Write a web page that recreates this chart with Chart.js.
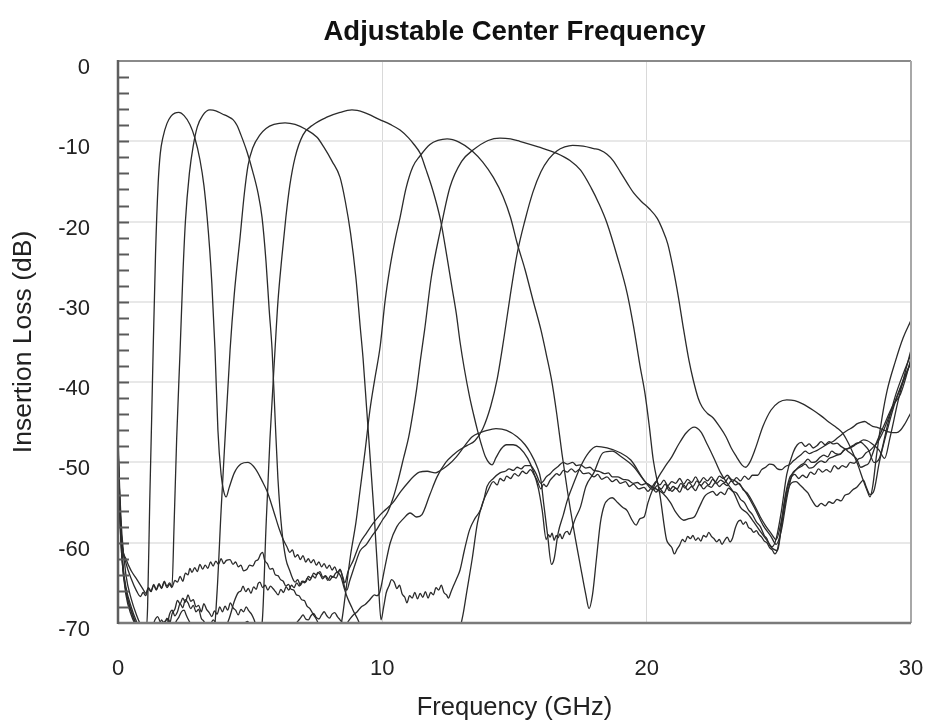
<!DOCTYPE html>
<html>
<head>
<meta charset="utf-8">
<script src="https://cdn.jsdelivr.net/npm/chart.js@4.4.1/dist/chart.umd.min.js"></script>
<style>
  html, body { margin: 0; padding: 0; background: #ffffff; overflow: hidden; }
  #wrap { width: 926px; height: 723px; position: relative; }
</style>
</head>
<body>
<div id="wrap"><canvas id="c" width="926" height="723"></canvas></div>
<script>
// ---- data: [frequency (GHz), insertion loss (dB)] ----
const chartTitle = 'Adjustable Center Frequency';
const xTitle = 'Frequency (GHz)';
const yTitle = 'Insertion Loss (dB)';
const xTicks = [0, 10, 20, 30];
const yTicks = [0, -10, -20, -30, -40, -50, -60, -70];

const filter1 = [[0,-47],[0.06,-53],[0.15,-59],[0.3,-64],[0.5,-67],[0.7,-69],[0.9,-70.5],[1.05,-71],[1.12,-68],[1.2,-55],[1.27,-45],[1.33,-36],[1.42,-24],[1.52,-15.2],[1.6,-11.5],[1.7,-9.5],[1.85,-7.8],[2.0,-6.9],[2.15,-6.5],[2.3,-6.4],[2.5,-6.8],[2.72,-7.9],[2.9,-9.5],[3.1,-12.3],[3.25,-15.5],[3.37,-19.4],[3.47,-23.5],[3.55,-27.7],[3.67,-36],[3.78,-46],[3.9,-51.5],[4.0,-53.6],[4.09,-54.3],[4.2,-53.2],[4.4,-51.3],[4.65,-50.2],[4.92,-50],[5.2,-50.8],[5.45,-52.3],[5.64,-53.6],[5.9,-56.2],[6.1,-58.3],[6.25,-59.6],[6.39,-60.5],[6.5,-61.2],[6.6,-60.9],[6.7,-61.8],[6.8,-61.5],[6.9,-62.1],[7.0,-61.6],[7.1,-62.4],[7.2,-62],[7.3,-62.5],[7.4,-62.1],[7.5,-62.8],[7.6,-62.4],[7.7,-63],[7.8,-62.6],[7.9,-63.2],[8.0,-62.8],[8.1,-63.4],[8.2,-63],[8.28,-63.6],[8.38,-63.9],[8.45,-64.4],[8.55,-65.6],[8.65,-66.6],[8.75,-67.4],[8.85,-68.1],[8.95,-68.8],[9.05,-69.4],[9.2,-70.5],[9.6,-72],[12.6,-72],[12.9,-71],[13.05,-69],[13.2,-66],[13.4,-62],[13.6,-57.5],[13.8,-55],[14.0,-53.5],[14.2,-52.4],[14.35,-52.8],[14.45,-52],[14.6,-52.3],[14.7,-51.7],[14.85,-52],[15.0,-51.4],[15.15,-51.7],[15.3,-51.1],[15.45,-51.4],[15.6,-50.9],[15.75,-51.6],[15.85,-52.2],[16.0,-53.3],[16.1,-52.7],[16.2,-53],[16.35,-52.2],[16.46,-51.8],[16.6,-51.4],[16.7,-51.6],[16.85,-51],[17.0,-51.2],[17.15,-50.8],[17.3,-51.2],[17.45,-50.9],[17.6,-51.4],[17.8,-51.3],[18.0,-51.8],[18.15,-51.5],[18.3,-52.1],[18.5,-51.8],[18.7,-52.4],[18.85,-52.1],[19.0,-52.6],[19.2,-52.4],[19.35,-53],[19.5,-52.7],[19.7,-53.3],[19.9,-53.1],[20.05,-53.6],[20.2,-53.1],[20.35,-53.7],[20.5,-53.3],[20.65,-53.8],[20.8,-53],[20.95,-53.6],[21.1,-53.2],[21.25,-53.7],[21.4,-52.8],[21.55,-53.4],[21.7,-53],[21.85,-53.5],[22.0,-52.7],[22.15,-53.3],[22.3,-52.9],[22.45,-53.1],[22.6,-52.5],[22.75,-53],[22.9,-52.6],[23.05,-52.9],[23.2,-52.3],[23.35,-52.8],[23.5,-52.6],[23.65,-53.4],[23.8,-53.8],[24.1,-55.5],[24.3,-56.8],[24.5,-57.9],[24.7,-58.8],[24.9,-59.6],[25.1,-57.2],[25.3,-53.5],[25.45,-52],[25.6,-51.5],[25.75,-52],[25.9,-51.6],[26.05,-51.9],[26.2,-51.2],[26.35,-51.5],[26.5,-50.8],[26.65,-51.2],[26.8,-50.9],[26.95,-51.2],[27.1,-50.4],[27.25,-50.8],[27.4,-50.4],[27.55,-50.6],[27.7,-50],[27.85,-50.1],[28.0,-49.6],[28.15,-49.4],[28.3,-48.8],[28.45,-48.5],[28.6,-48],[28.75,-47.4],[28.9,-46.5],[29.05,-45.3],[29.2,-44],[29.35,-42.8],[29.5,-41.5],[29.65,-40.2],[29.8,-39],[30,-37.5]];

const filter2 = [[0,-49],[0.06,-55],[0.15,-60],[0.3,-62.5],[0.5,-64.5],[0.7,-66],[0.85,-66.7],[0.95,-66.2],[1.05,-66.6],[1.15,-65.7],[1.25,-66.1],[1.35,-65.3],[1.45,-65.9],[1.55,-65.2],[1.65,-65.7],[1.75,-64.9],[1.85,-65.6],[1.95,-65.2],[2.04,-65.6],[2.12,-58],[2.22,-47],[2.35,-36],[2.45,-27],[2.55,-20],[2.7,-14],[2.85,-10.5],[3.0,-8.2],[3.2,-6.8],[3.48,-6.1],[3.7,-6.2],[3.95,-6.6],[4.15,-6.9],[4.35,-7.3],[4.5,-8],[4.65,-9.2],[4.88,-11.3],[5.1,-13.8],[5.3,-16.5],[5.45,-19.5],[5.6,-25],[5.72,-31],[5.83,-36],[5.95,-45],[6.05,-52],[6.2,-58.5],[6.35,-62],[6.5,-63.5],[6.6,-64.4],[6.7,-64.9],[6.8,-64.6],[6.9,-65.3],[7.0,-64.8],[7.1,-64.9],[7.2,-64.2],[7.3,-64.4],[7.4,-63.8],[7.5,-64],[7.64,-63.6],[7.75,-64.3],[7.85,-64.1],[8.0,-64.7],[8.13,-64.2],[8.25,-64.4],[8.4,-63.4],[8.5,-64.2],[8.58,-65],[8.7,-63.6],[8.9,-62.2],[9.16,-60],[9.4,-58.8],[9.65,-57.6],[9.9,-56.6],[10.15,-55.8],[10.4,-55],[10.7,-53.6],[11.0,-52.4],[11.2,-51.7],[11.4,-51.2],[11.7,-51.1],[12.0,-51.3],[12.2,-51],[12.5,-50.3],[12.8,-49.3],[13.1,-48],[13.4,-46.8],[13.7,-46.3],[13.96,-46],[14.3,-45.8],[14.7,-46],[15.1,-46.8],[15.4,-47.8],[15.6,-48.8],[15.85,-50.5],[16.0,-52.2],[16.1,-55],[16.25,-59],[16.4,-62.7],[16.5,-62],[16.65,-58.8],[16.85,-56.5],[17.0,-54.7],[17.25,-52.5],[17.5,-50.5],[17.8,-48.8],[18.1,-48],[18.5,-48.2],[19.0,-48.8],[19.4,-49.7],[19.9,-52.2],[20.25,-53.4],[20.4,-52.9],[20.55,-53.3],[20.7,-52.7],[20.85,-53.5],[21.0,-53],[21.15,-53.3],[21.3,-52.6],[21.45,-53.2],[21.6,-52.5],[21.75,-53],[21.9,-52.3],[22.05,-52.9],[22.2,-52.4],[22.35,-52.8],[22.5,-52.1],[22.65,-52.6],[22.8,-52.2],[22.95,-52.5],[23.1,-51.9],[23.25,-52.4],[23.4,-51.9],[23.55,-52.3],[23.7,-51.7],[23.85,-52.1],[24.0,-51.6],[24.2,-51.6],[24.35,-50.9],[24.5,-50.6],[24.65,-50.2],[24.8,-50.3],[24.95,-50.8],[25.1,-50.9],[25.25,-50.5],[25.4,-50.3],[25.55,-49.8],[25.7,-49.4],[25.85,-49],[26.0,-48.6],[26.15,-48.9],[26.3,-48.7],[26.45,-48.5],[26.6,-48.2],[26.75,-47.9],[26.9,-47.6],[27.05,-47.4],[27.2,-47],[27.35,-46.6],[27.5,-46.2],[27.65,-45.9],[27.8,-45.6],[27.95,-45.2],[28.1,-45],[28.25,-44.9],[28.4,-45.2],[28.55,-45.5],[28.7,-45.6],[28.85,-45.8],[29.0,-46],[29.15,-46.2],[29.3,-46.3],[29.45,-46.3],[29.6,-46],[29.75,-45.3],[29.9,-44.4],[30,-43.8]];

const filter3 = [[0,-48],[0.06,-54],[0.15,-61],[0.3,-66],[0.5,-68.5],[0.7,-70.3],[0.9,-71],[1.6,-71],[1.75,-69.8],[1.85,-70.2],[1.95,-68.9],[2.05,-68.4],[2.15,-69.1],[2.25,-68.6],[2.35,-67.6],[2.45,-68.1],[2.55,-67.1],[2.65,-67.5],[2.75,-68.2],[2.85,-67.8],[2.95,-68.6],[3.05,-68.3],[3.15,-69.4],[3.25,-69.8],[3.4,-71],[3.6,-72],[3.75,-66],[3.9,-56],[4.05,-47],[4.24,-36],[4.4,-29],[4.62,-21.9],[4.78,-16.5],[4.92,-13],[5.1,-10.8],[5.37,-9.2],[5.6,-8.4],[5.9,-7.9],[6.32,-7.7],[6.7,-7.9],[7.1,-8.5],[7.53,-9.5],[7.8,-10.8],[8.1,-12.5],[8.4,-14.5],[8.6,-17.5],[8.8,-21.5],[9.0,-27],[9.16,-33],[9.27,-37],[9.4,-43],[9.53,-49],[9.7,-57],[9.85,-65],[9.95,-69.6],[10.05,-68],[10.15,-66.2],[10.25,-65.4],[10.35,-64.6],[10.45,-64.9],[10.55,-65.7],[10.65,-65.3],[10.75,-66.4],[10.85,-66.8],[10.93,-67.5],[11.03,-66.6],[11.13,-66.9],[11.23,-66.2],[11.33,-67],[11.43,-66.3],[11.53,-66.8],[11.63,-66.1],[11.73,-66.9],[11.83,-66.2],[11.93,-66.5],[12.03,-65.6],[12.13,-65.9],[12.23,-65.3],[12.33,-66.2],[12.43,-66.5],[12.5,-66.9],[12.6,-66.1],[12.7,-65.3],[12.82,-64.4],[12.94,-63.4],[13.1,-61],[13.3,-58.4],[13.5,-57],[13.7,-56],[13.85,-54.5],[13.96,-53],[14.2,-52],[14.45,-51.3],[14.65,-51.1],[14.8,-50.8],[14.95,-51],[15.1,-50.6],[15.25,-50.8],[15.4,-50.4],[15.6,-50.4],[15.8,-51.3],[16.0,-52.6],[16.1,-52.3],[16.2,-51.8],[16.35,-51.4],[16.46,-51],[16.65,-50.5],[16.84,-50],[17.0,-50.2],[17.2,-50],[17.35,-50.4],[17.5,-50.3],[17.7,-50.7],[17.85,-50.6],[18.0,-51],[18.2,-51.1],[18.4,-51.4],[18.55,-51.3],[18.7,-51.8],[18.9,-51.8],[19.1,-52.1],[19.3,-52.2],[19.5,-52.6],[19.65,-52.5],[19.8,-52.8],[20.0,-52.6],[20.2,-53],[20.35,-52.4],[20.5,-52.8],[20.65,-52.2],[20.8,-52.9],[20.95,-52.4],[21.1,-52.6],[21.25,-52],[21.4,-52.7],[21.55,-52.1],[21.7,-52.5],[21.85,-51.8],[22.0,-52.5],[22.15,-51.9],[22.3,-52.3],[22.45,-51.8],[22.6,-52.4],[22.75,-51.7],[22.9,-52],[23.05,-51.6],[23.2,-52.1],[23.35,-52.3],[23.5,-52.7],[23.8,-54],[24.1,-55.8],[24.4,-57.8],[24.7,-59.2],[24.9,-60.2],[25.1,-58.4],[25.3,-54.5],[25.5,-51.5],[25.65,-50.9],[25.8,-50.4],[25.95,-50.1],[26.1,-49.6],[26.25,-50],[26.4,-49.9],[26.55,-49.4],[26.7,-49.1],[26.85,-49.3],[27.0,-48.6],[27.15,-48.9],[27.3,-49],[27.45,-48.5],[27.6,-48.3],[27.75,-48.1],[27.9,-47.8],[28.05,-47.5],[28.2,-47.2],[28.35,-47.3],[28.5,-47.6],[28.65,-48],[28.8,-48.5],[29.0,-49.5],[29.2,-47],[29.5,-42.5],[29.8,-38.5],[30,-36]];

const filter4 = [[0,-50],[0.06,-56],[0.15,-62],[0.3,-66.5],[0.5,-69],[0.7,-70.5],[0.9,-71.5],[1.5,-71],[1.65,-69.6],[1.75,-70.2],[1.85,-69.4],[1.95,-70.1],[2.05,-68.8],[2.15,-68.3],[2.25,-67.2],[2.35,-67.6],[2.45,-66.9],[2.55,-67.4],[2.65,-66.5],[2.75,-67.3],[2.85,-67.1],[2.95,-68],[3.05,-67.8],[3.15,-68.6],[3.25,-67.6],[3.35,-68.3],[3.45,-68.7],[3.55,-69.2],[3.65,-68.5],[3.75,-68.9],[3.85,-68],[3.95,-68.6],[4.05,-67.9],[4.15,-68.4],[4.25,-67.5],[4.35,-68.1],[4.45,-68.4],[4.55,-69],[4.65,-68.3],[4.75,-68.6],[4.85,-68],[4.95,-68.5],[5.05,-68.9],[5.15,-69.6],[5.3,-71],[5.45,-70],[5.6,-58],[5.75,-47],[5.94,-36],[6.05,-30],[6.2,-24.4],[6.35,-19.5],[6.5,-15.5],[6.7,-12],[7.0,-9.2],[7.4,-7.9],[7.9,-7.0],[8.4,-6.4],[8.85,-6.1],[9.3,-6.4],[9.9,-7.3],[10.3,-7.9],[10.67,-8.6],[11.0,-9.6],[11.2,-10.4],[11.43,-11.5],[11.65,-13.5],[11.9,-16],[12.2,-19.8],[12.45,-24.5],[12.65,-28.5],[12.8,-31.5],[12.94,-35],[13.1,-38.3],[13.3,-41.8],[13.45,-44],[13.6,-46],[13.75,-47.8],[13.9,-49.3],[14.05,-50.1],[14.15,-50.3],[14.3,-49.4],[14.5,-48.3],[14.7,-47.8],[14.95,-47.8],[15.2,-48.2],[15.5,-49.5],[15.7,-51],[15.9,-53.2],[16.05,-56],[16.2,-59.6],[16.28,-59],[16.35,-59.3],[16.42,-58.8],[16.5,-59.7],[16.58,-59.1],[16.65,-59.4],[16.72,-58.9],[16.8,-59.5],[16.9,-58.8],[17.0,-58.6],[17.08,-59],[17.15,-58.4],[17.3,-57],[17.5,-55.5],[17.7,-53],[18.0,-51.3],[18.35,-48.8],[18.7,-48.6],[19.0,-49.2],[19.5,-50.5],[20.0,-52.6],[20.3,-53.2],[20.6,-53.8],[20.9,-55],[21.1,-56.2],[21.4,-57.2],[21.6,-57],[21.8,-56.8],[22.0,-55.5],[22.2,-54.2],[22.35,-53.8],[22.5,-53.6],[22.65,-54.1],[22.8,-53.7],[22.95,-54],[23.1,-53.2],[23.25,-53.6],[23.4,-53.8],[23.55,-54.6],[23.7,-55],[23.85,-55.9],[24.0,-56.5],[24.15,-57.4],[24.3,-58],[24.45,-59.1],[24.55,-59.5],[24.65,-60.3],[24.8,-60.8],[24.95,-61],[25.1,-58],[25.3,-54],[25.5,-52.5],[25.65,-52.4],[25.8,-52.8],[25.95,-53.3],[26.1,-53.8],[26.25,-54.7],[26.45,-55.5],[26.6,-55.1],[26.75,-55.4],[26.9,-54.9],[27.05,-55.1],[27.2,-54.6],[27.35,-54.8],[27.5,-54.1],[27.65,-53.9],[27.8,-53.4],[27.95,-53.1],[28.1,-52.5],[28.2,-52.2],[28.3,-53],[28.45,-54],[28.6,-53.5],[28.8,-50],[29.1,-46],[29.4,-42.5],[29.7,-40],[30,-37.5]];

const filter5 = [[0,-47.5],[0.06,-54],[0.15,-60],[0.3,-62],[0.5,-63.5],[0.7,-64.5],[0.95,-65.8],[1.05,-66.3],[1.15,-65.6],[1.25,-66],[1.35,-65.2],[1.45,-65.8],[1.55,-65.1],[1.65,-65.6],[1.75,-64.8],[1.85,-65.4],[1.95,-65],[2.05,-65.5],[2.15,-64.7],[2.25,-64.9],[2.35,-64.2],[2.45,-64.8],[2.55,-63.8],[2.65,-64],[2.72,-63.2],[2.8,-63.7],[2.9,-63.1],[3.0,-63.6],[3.1,-62.7],[3.2,-63.3],[3.3,-62.8],[3.4,-63.2],[3.5,-62.4],[3.6,-62.9],[3.7,-62.3],[3.8,-62.7],[3.9,-62],[4.0,-62.6],[4.1,-62.2],[4.24,-62.1],[4.35,-62.7],[4.45,-62.4],[4.55,-63],[4.65,-62.8],[4.75,-63.5],[4.88,-63.3],[4.98,-62.8],[5.1,-62.9],[5.2,-62.3],[5.3,-62.1],[5.4,-61.4],[5.47,-61.2],[5.55,-62.2],[5.65,-62.6],[5.75,-63.3],[5.85,-63.2],[5.95,-64],[6.05,-64.1],[6.15,-64.6],[6.25,-64.8],[6.35,-65.4],[6.45,-65.2],[6.55,-65.8],[6.65,-65.9],[6.75,-66.5],[6.85,-66.6],[6.95,-67.1],[7.05,-67.2],[7.15,-67.9],[7.26,-68.2],[7.38,-68.9],[7.5,-69.5],[7.65,-70.6],[7.8,-71.5],[8.2,-72],[8.45,-70],[8.6,-66.5],[8.8,-61.5],[9.0,-57.5],[9.16,-53.4],[9.35,-48.5],[9.53,-43.5],[9.72,-39.5],[9.92,-35.5],[10.1,-30],[10.3,-25.5],[10.5,-22],[10.67,-19.5],[10.9,-15.8],[11.15,-13.2],[11.43,-11.8],[11.8,-10.4],[12.1,-9.9],[12.45,-9.7],[12.9,-10.1],[13.4,-11.2],[13.8,-12.6],[14.2,-14.5],[14.57,-16.9],[14.85,-19.5],[15.1,-22.7],[15.4,-26],[15.7,-29.8],[16.0,-33.5],[16.2,-36.5],[16.4,-39.7],[16.6,-44],[16.8,-49],[17.0,-53.5],[17.25,-58.5],[17.5,-63],[17.7,-66.5],[17.82,-68.2],[17.95,-66.5],[18.1,-62],[18.25,-57.5],[18.4,-55.3],[18.55,-54.6],[18.7,-54.4],[18.9,-55],[19.1,-55.6],[19.26,-56],[19.45,-57.2],[19.6,-57.8],[19.75,-57],[19.9,-56.8],[20.05,-55],[20.25,-53.2],[20.45,-51.8],[20.7,-50.5],[20.95,-49.3],[21.2,-47.8],[21.5,-46.3],[21.8,-45.6],[22.05,-46.2],[22.3,-47.8],[22.55,-49.5],[22.8,-51.3],[23.05,-52.6],[23.3,-53.8],[23.55,-55.6],[23.8,-56.3],[24.05,-57.4],[24.3,-58.6],[24.55,-59.7],[24.75,-60.5],[24.9,-59.5],[25.1,-56],[25.3,-51.5],[25.55,-48.7],[25.7,-47.8],[25.85,-47.5],[26.0,-48],[26.15,-47.7],[26.3,-48.2],[26.45,-47.9],[26.6,-47.4],[26.75,-47.8],[26.9,-47.4],[27.05,-47.7],[27.2,-47.6],[27.35,-48],[27.5,-48.3],[27.65,-48.7],[27.8,-49.1],[27.95,-49.6],[28.1,-50.6],[28.25,-50.4],[28.4,-50.1],[28.7,-47.5],[28.95,-45.6],[29.3,-43],[29.6,-41.5],[29.8,-39.5],[30,-37]];

const filter6 = [[0,-49.5],[0.06,-56],[0.15,-62],[0.3,-66],[0.5,-68.5],[0.7,-70.2],[0.9,-71.5],[3.9,-71.5],[4.2,-69.5],[4.4,-67.3],[4.55,-66.2],[4.65,-66],[4.73,-65.4],[4.83,-66.1],[4.93,-65.7],[5.03,-66.3],[5.13,-65.5],[5.23,-65.8],[5.3,-65.1],[5.37,-64.9],[5.47,-65.6],[5.57,-65.3],[5.67,-65.9],[5.77,-65.4],[5.86,-65.7],[5.96,-66.1],[6.06,-66.5],[6.16,-65.8],[6.26,-66.2],[6.36,-65.5],[6.46,-65.9],[6.56,-65.3],[6.66,-65.6],[6.76,-65],[6.86,-65.4],[6.96,-64.8],[7.06,-65],[7.16,-64.4],[7.26,-64.7],[7.36,-64.1],[7.46,-64.4],[7.56,-63.7],[7.64,-63.9],[7.74,-64.5],[7.84,-64.2],[7.94,-64.7],[8.04,-64.1],[8.13,-64.3],[8.23,-63.8],[8.33,-63.6],[8.4,-63.3],[8.5,-64.4],[8.58,-65.6],[8.66,-65.9],[8.76,-64.8],[8.9,-63.4],[9.0,-62.4],[9.16,-61],[9.4,-60.2],[9.6,-59.2],[9.8,-58.3],[10.0,-57.2],[10.2,-56.2],[10.4,-54.5],[10.6,-52.2],[10.8,-49.5],[11.0,-46.8],[11.16,-43.8],[11.3,-40.8],[11.45,-37],[11.6,-33.5],[11.85,-27],[12.2,-21],[12.56,-15.7],[13.0,-12.5],[13.43,-11.1],[14.0,-9.9],[14.45,-9.6],[14.85,-9.7],[15.2,-10],[15.9,-10.7],[16.6,-11.5],[17.1,-12.4],[17.5,-13.6],[17.9,-15.8],[18.2,-17.8],[18.5,-20.2],[18.9,-24.5],[19.26,-28.9],[19.5,-33],[19.75,-38],[19.94,-41.5],[20.1,-45.5],[20.25,-49.7],[20.5,-54],[20.75,-59.6],[20.85,-60.2],[20.95,-60.6],[21.05,-61.4],[21.15,-60.8],[21.25,-60.3],[21.35,-59.6],[21.45,-59.9],[21.55,-59.2],[21.65,-59.5],[21.75,-59.1],[21.85,-59.7],[21.95,-59.4],[22.05,-59.8],[22.15,-59.1],[22.25,-59.3],[22.35,-58.7],[22.45,-59.2],[22.55,-59.5],[22.65,-59.9],[22.75,-59.6],[22.85,-60.2],[22.95,-59.7],[23.05,-59.3],[23.15,-59.9],[23.25,-59.4],[23.35,-58.2],[23.45,-57.4],[23.55,-57.2],[23.65,-57.7],[23.75,-57.4],[23.85,-58.1],[23.95,-58.3],[24.05,-58.7],[24.15,-58.5],[24.25,-59],[24.35,-59.3],[24.45,-59.8],[24.55,-60],[24.65,-60.6],[24.75,-60.9],[24.85,-61.4],[24.95,-60.8],[25.05,-59],[25.2,-55],[25.4,-52],[25.55,-51.3],[25.7,-50.8],[25.85,-50.5],[26.0,-50.2],[26.15,-50.7],[26.3,-50.6],[26.45,-50.1],[26.6,-49.8],[26.75,-50],[26.9,-49.5],[27.05,-49.3],[27.2,-49.1],[27.35,-48.9],[27.5,-48.4],[27.65,-48.2],[27.8,-47.9],[27.95,-47.6],[28.1,-47.5],[28.25,-47.9],[28.4,-48.5],[28.6,-50],[28.8,-49.5],[29.1,-45.5],[29.4,-41.8],[29.7,-39],[30,-36.5]];

const filter7 = [[0,-48.5],[0.06,-55],[0.15,-61.5],[0.3,-65.5],[0.5,-68],[0.7,-69.8],[0.9,-71],[1.3,-70.5],[1.4,-69.6],[1.5,-69.2],[1.6,-69.9],[1.7,-70.4],[1.8,-69.7],[1.9,-69.5],[2.0,-70.2],[2.1,-70.6],[2.2,-69.8],[2.3,-69.3],[2.4,-68.6],[2.5,-68.4],[2.58,-69],[2.65,-69.5],[2.75,-70.1],[2.9,-70.8],[3.3,-71],[3.5,-70.2],[3.6,-69.6],[3.7,-70],[3.8,-70.5],[4.6,-71],[4.75,-70.2],[4.9,-69.8],[5.0,-70.3],[5.1,-70.6],[6.5,-71],[6.65,-70.3],[6.8,-69.8],[6.9,-69.4],[7.0,-69],[7.1,-69.5],[7.2,-69.6],[7.3,-69.1],[7.4,-68.8],[7.5,-69.3],[7.6,-69.5],[7.7,-69],[7.8,-68.6],[7.9,-69.1],[8.0,-69.4],[8.1,-68.9],[8.2,-68.7],[8.3,-69.2],[8.4,-69.6],[8.5,-70],[8.6,-70.2],[8.75,-69.6],[8.9,-69],[9.05,-68.6],[9.2,-68],[9.35,-67.7],[9.5,-67.2],[9.6,-66.8],[9.7,-66.5],[9.8,-66.6],[9.9,-66.2],[10.1,-63],[10.3,-60],[10.55,-58],[10.8,-57],[11.05,-56.3],[11.3,-56.8],[11.5,-56.5],[11.8,-54],[12.07,-51.8],[12.4,-50],[12.7,-49],[12.94,-48.4],[13.2,-47.9],[13.5,-47.3],[13.8,-45.8],[14.1,-43],[14.34,-39.7],[14.6,-34.5],[14.83,-29.4],[15.1,-24],[15.4,-19.8],[15.7,-16.3],[16.0,-13.8],[16.3,-12.2],[16.6,-11.2],[16.9,-10.7],[17.2,-10.5],[17.6,-10.6],[18.0,-10.9],[18.24,-11.1],[18.5,-11.6],[18.73,-12.4],[19.0,-13.8],[19.3,-15.4],[19.5,-16.4],[19.8,-17.5],[20.1,-18.4],[20.4,-19.6],[20.6,-21],[20.8,-22.8],[21.0,-25.8],[21.2,-29.4],[21.4,-33.5],[21.6,-37.3],[21.76,-39.7],[21.95,-42],[22.1,-43.1],[22.3,-43.9],[22.5,-44.4],[22.75,-45.5],[23.0,-46.8],[23.2,-48.2],[23.4,-49.3],[23.6,-50.3],[23.75,-50.6],[23.9,-50],[24.1,-48.4],[24.4,-45.5],[24.7,-43.5],[25.0,-42.5],[25.3,-42.2],[25.6,-42.3],[25.9,-42.7],[26.3,-43.5],[26.6,-44.2],[26.9,-45],[27.2,-45.7],[27.4,-46.3],[27.6,-47.4],[27.8,-48.8],[28.0,-50.4],[28.2,-52.3],[28.35,-53.6],[28.45,-54.3],[28.55,-53],[28.7,-49],[28.9,-44.5],[29.1,-41],[29.4,-37.5],[29.7,-34.5],[30,-32.3]];

const filters = [filter1, filter2, filter3, filter4, filter5, filter6, filter7];

// ---- chart ----
const FONT = '"Liberation Sans", Arial, "DejaVu Sans", sans-serif';

const framePlugin = {
  id: 'frame',
  afterDatasetsDraw(chart) {
    const ctx = chart.ctx;
    const a = chart.chartArea;
    const ys = chart.scales.y;
    ctx.save();
    // inward minor tick marks on the left axis
    ctx.strokeStyle = '#5a5a5a';
    ctx.lineWidth = 2;
    ys.ticks.forEach(t => {
      if (t.value === 0 || t.value === -70) return;
      const py = Math.round(ys.getPixelForValue(t.value)) + 0.5;
      ctx.beginPath();
      ctx.moveTo(a.left, py);
      ctx.lineTo(a.left + 11, py);
      ctx.stroke();
    });
    // frame
    ctx.lineWidth = 2;
    ctx.strokeStyle = '#8a8a8a';
    ctx.beginPath(); ctx.moveTo(a.left, a.top); ctx.lineTo(a.right, a.top); ctx.stroke();
    ctx.strokeStyle = '#a8a8a8';
    ctx.beginPath(); ctx.moveTo(a.right, a.top); ctx.lineTo(a.right, a.bottom); ctx.stroke();
    ctx.lineWidth = 2.5;
    ctx.strokeStyle = '#7a7a7a';
    ctx.beginPath(); ctx.moveTo(a.left, a.bottom); ctx.lineTo(a.right, a.bottom); ctx.stroke();
    ctx.strokeStyle = '#5e5e5e';
    ctx.beginPath(); ctx.moveTo(a.left, a.top - 1); ctx.lineTo(a.left, a.bottom + 1); ctx.stroke();
    ctx.restore();
  },
  afterDraw(chart) {
    const ctx = chart.ctx;
    const a = chart.chartArea;
    ctx.save();
    ctx.fillStyle = '#111';
    ctx.font = 'bold 27.5px ' + FONT;
    ctx.textAlign = 'center';
    ctx.textBaseline = 'middle';
    ctx.fillText(chartTitle, (a.left + a.right) / 2, 32);
    ctx.restore();
  }
};

new Chart(document.getElementById('c'), {
  type: 'line',
  data: {
    datasets: filters.map((f, i) => ({
      label: 'Filter ' + (i + 1),
      data: f.map(p => ({ x: p[0], y: p[1] })),
      borderColor: '#2b2b2b',
      borderWidth: 1.3,
      pointRadius: 0,
      fill: false,
      cubicInterpolationMode: 'monotone'
    }))
  },
  options: {
    responsive: false,
    animation: false,
    events: [],
    layout: { padding: { left: 0, right: 15, top: 61, bottom: 0 } },
    plugins: {
      legend: { display: false },
      tooltip: { enabled: false },
      title: { display: false }
    },
    scales: {
      x: {
        type: 'linear',
        min: xTicks[0],
        max: xTicks[xTicks.length - 1],
        afterBuildTicks: s => { s.ticks = xTicks.map(v => ({ value: v })); },
        afterFit: s => { s.height = 100; s.paddingLeft = 14; s.paddingRight = 14; },
        border: { display: false },
        grid: {
          drawTicks: false,
          color: c => (c.tick && c.tick.value > 0 && c.tick.value < 30) ? '#d9d9d9' : 'rgba(0,0,0,0)',
          lineWidth: 1
        },
        ticks: {
          padding: 33,
          color: '#222',
          font: { family: FONT, size: 22 },
          maxRotation: 0
        },
        title: {
          display: true,
          text: xTitle,
          color: '#222',
          font: { family: FONT, size: 25.5 },
          padding: { top: 0, bottom: 0 }
        }
      },
      y: {
        type: 'linear',
        min: yTicks[yTicks.length - 1],
        max: yTicks[0],
        afterFit: s => { s.width = 118; },
        border: { display: false },
        grid: {
          drawTicks: false,
          color: c => (c.tick && c.tick.value % 10 === 0 && c.tick.value < 0 && c.tick.value > -70) ? '#e8e8e8' : 'rgba(0,0,0,0)',
          lineWidth: 2
        },
        ticks: {
          stepSize: 2,
          autoSkip: false,
          padding: 28,
          labelOffset: 7,
          color: '#222',
          font: { family: FONT, size: 22 },
          callback: v => (yTicks.includes(v) ? String(v) : '')
        },
        title: {
          display: true,
          text: yTitle,
          color: '#222',
          font: { family: FONT, size: 26.5 },
          padding: { top: 8, bottom: 0 }
        }
      }
    }
  },
  plugins: [framePlugin]
});
</script>
</body>
</html>
